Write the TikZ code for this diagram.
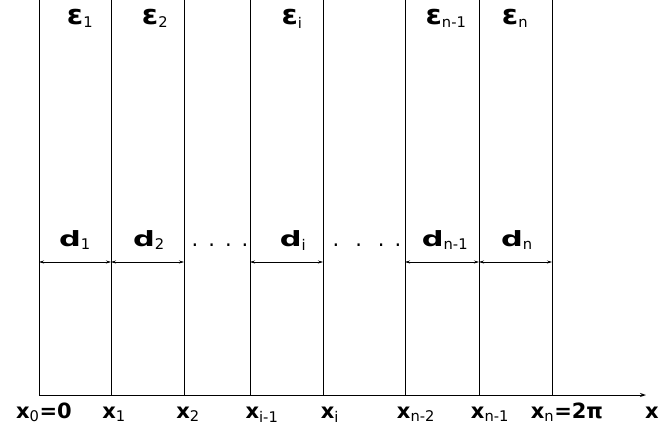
\documentclass[tikz,border=0pt]{standalone}
\usepackage{fontspec}
\setmainfont{DejaVu Sans}
\usepackage{tikz}
\usetikzlibrary{arrows.meta}
\tikzset{
  wall/.style={line width=1pt},
  axis/.style={line width=1pt,-{Stealth[length=6pt,width=4pt]}},
  dim/.style={line width=0.6pt,{Stealth[length=5pt,width=3pt]}-{Stealth[length=5pt,width=3pt]}},
  lbl/.style={font=\fontsize{21}{24}\selectfont\bfseries,inner sep=0pt,anchor=base}
}
\newcommand{\sub}[2]{#1\textsubscript{\mdseries#2}}
\newcommand{\eps}{\scalebox{1.4}[1.3]{ε}}
\newcommand{\dd}{\scalebox{1.45}[1.0]{d}}

\begin{document}
\begin{tikzpicture}[x=1pt,y=-1pt]
\useasboundingbox (0,0) rectangle (661,429);
% interfaces x_0 ... x_n
\foreach \k/\xx in {0/39,1/111,2/184,3/250,4/323,5/405,6/479,7/552}{
  \coordinate (t\k) at (\xx,0);
  \coordinate (b\k) at (\xx,395);
  \coordinate (m\k) at (\xx,262);
}
\foreach \k in {1,...,7} \draw[wall] (t\k) -- (b\k);
\coordinate (xend) at (646,395);
\draw[wall] (t0) -- (b0);
\draw[axis] (b0) -- (xend);
% layer widths
\draw[dim] (m0) -- (m1);
\draw[dim] (m1) -- (m2);
\draw[dim] (m3) -- (m4);
\draw[dim] (m5) -- (m6);
\draw[dim] (m6) -- (m7);
% permittivities
\node[lbl] (e1) at (80,24) {\sub{\eps}{1}};
\node[lbl] (e2) at (155,24) {\sub{\eps}{2}};
\node[lbl] (ei) at (292,24) {\sub{\eps}{i}};
\node[lbl] (en1) at (446,24) {\sub{\eps}{n-1}};
\node[lbl] (en) at (515,24) {\sub{\eps}{n}};
% thicknesses
\node[lbl] (d1) at (75,246) {\sub{\dd}{1}};
\node[lbl] (d2) at (149,246) {\sub{\dd}{2}};
\node[lbl] (di) at (293,246) {\sub{\dd}{i}};
\node[lbl] (dn1) at (445,246) {\sub{\dd}{n-1}};
\node[lbl] (dn) at (517,246) {\sub{\dd}{n}};
\node[lbl,font=\fontsize{21}{24}\selectfont] (dotsa) at (220,246) {.\hspace{10pt}.\hspace{10pt}.\hspace{10pt}.};
\node[lbl,font=\fontsize{21}{24}\selectfont] (dotsb) at (367,246) {.\hspace{16pt}.\hspace{16pt}.\hspace{10pt}.};
% positions
\node[lbl] (x0) at (44,418) {\sub{x}{0}=0};
\node[lbl] (x1) at (114,418) {\sub{x}{1}};
\node[lbl] (x2) at (188,418) {\sub{x}{2}};
\node[lbl] (xi1) at (262,418) {\sub{x}{i-1}};
\node[lbl] (xi) at (330,418) {\sub{x}{i}};
\node[lbl] (xn2) at (416,418) {\sub{x}{n-2}};
\node[lbl] (xn1) at (490,418) {\sub{x}{n-1}};
\node[lbl] (xn) at (567,418) {\sub{x}{n}=2π};
\node[lbl] (xlab) at (652,418) {x};
\end{tikzpicture}
\end{document}
